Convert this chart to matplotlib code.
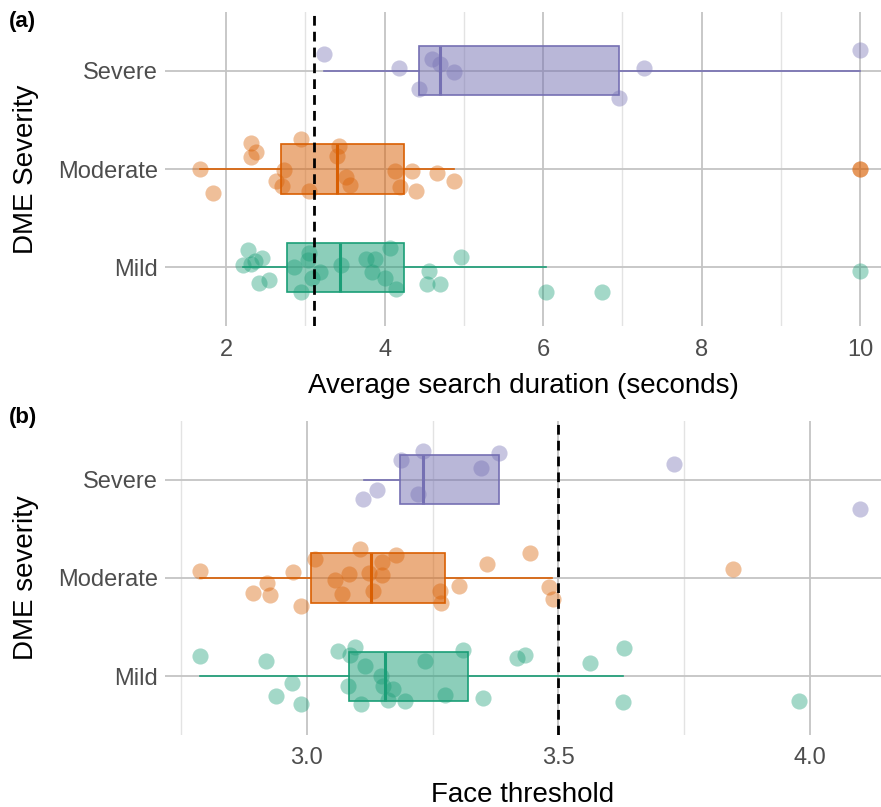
import matplotlib
matplotlib.use("Agg")
import matplotlib.pyplot as plt
from matplotlib.ticker import MultipleLocator

plt.rcParams['font.family'] = ['Liberation Sans', 'DejaVu Sans']

categories = ["Mild", "Moderate", "Severe"]
colors = {"Mild": "#1B9E77", "Moderate": "#D95F02", "Severe": "#7570B3"}

# ---- Panel (a): average search duration (seconds) ----
a_severe_x = [3.24, 4.18, 4.60, 4.70, 4.87, 4.43, 7.27, 6.96, 10.0]
a_severe_dy = [0.170, 0.028, 0.122, 0.071, -0.007, -0.187, 0.028, -0.279, 0.214]

a_moderate_x = [1.67, 1.83, 2.32, 2.38, 2.32, 2.95, 2.73, 2.63, 2.71, 3.05, 3.42,
                3.40, 3.51, 3.57, 4.13, 4.20, 4.34, 4.40, 4.66, 4.88, 10.0, 10.0]
a_moderate_dy = [0.005, -0.248, 0.265, 0.173, 0.119, 0.306, -0.007, -0.119, -0.177,
                 -0.228, 0.232, 0.129, -0.085, -0.160, -0.023, -0.187, -0.023,
                 -0.228, -0.041, -0.126, 0.0, 0.0]

a_mild_x = [2.28, 2.22, 2.31, 2.36, 2.46, 2.42, 2.54, 2.86, 2.95, 3.05, 3.03, 3.08,
            3.18, 3.45, 3.77, 3.88, 3.84, 4.07, 4.01, 4.15, 4.56, 4.53, 4.70, 4.96,
            6.04, 6.74, 10.0]
a_mild_dy = [0.173, 0.020, 0.031, 0.061, 0.089, -0.166, -0.133, 0.003, -0.258,
             0.140, 0.071, -0.115, -0.048, 0.020, 0.082, 0.082, -0.048, 0.191,
             -0.115, -0.224, -0.041, -0.177, -0.177, 0.099, -0.255, -0.255, -0.041]

# box summaries (whisker low, Q1, median, Q3, whisker high) for Mild, Moderate, Severe
a_whislo = [2.22, 1.67, 3.24]
a_q1 = [2.77, 2.69, 4.43]
a_med = [3.44, 3.40, 4.70]
a_q3 = [4.25, 4.24, 6.96]
a_whishi = [6.04, 4.88, 10.0]
a_ref = 3.11

# ---- Panel (b): face threshold ----
b_severe_x = [3.112, 3.140, 3.187, 3.232, 3.222, 3.346, 3.382, 3.730, 4.100]
b_severe_dy = [-0.194, -0.102, 0.204, 0.299, -0.143, 0.119, 0.272, 0.163, -0.299]

b_moderate_x = [2.789, 2.894, 2.921, 2.927, 2.973, 2.988, 3.017, 3.056, 3.070, 3.085,
                3.105, 3.124, 3.132, 3.149, 3.149, 3.177, 3.265, 3.266, 3.303, 3.358,
                3.444, 3.482, 3.490, 3.846]
b_moderate_dy = [0.075, -0.156, -0.054, -0.173, 0.058, -0.283, 0.194, -0.020,
                 -0.163, 0.041, 0.293, 0.054, -0.129, 0.166, 0.031, 0.235, -0.129,
                 -0.258, -0.078, 0.140, 0.258, -0.089, -0.214, 0.092]

b_mild_x = [2.788, 2.919, 2.970, 2.939, 2.989, 3.063, 3.096, 3.086, 3.116, 3.083,
            3.107, 3.147, 3.152, 3.172, 3.162, 3.195, 3.235, 3.275, 3.311, 3.351,
            3.417, 3.434, 3.562, 3.630, 3.629, 3.978]
b_mild_dy = [0.207, 0.156, -0.074, -0.204, -0.286, 0.252, 0.293, 0.211, 0.099,
             -0.105, -0.286, -0.003, -0.105, -0.130, -0.242, -0.252, 0.156,
             -0.191, 0.268, -0.218, 0.180, 0.214, 0.136, 0.283, -0.262, -0.252]

b_whislo = [2.788, 2.789, 3.114]
b_q1 = [3.084, 3.009, 3.185]
b_med = [3.156, 3.128, 3.232]
b_q3 = [3.321, 3.275, 3.382]
b_whishi = [3.629, 3.488, 3.382]
b_ref = 3.5

fig = plt.figure(figsize=(8.81, 8.07), dpi=100)
ax_a = fig.add_axes([165 / 881, 1 - 326 / 807, 716 / 881, 314 / 807])
ax_b = fig.add_axes([165 / 881, 1 - 735 / 807, 716 / 881, 314 / 807])


def draw_panel(ax, groups, whislo, q1, med, q3, whishi, ref, xlim, major, minor,
               xlabel, ylabel, tag, tag_y, fmt):
    stats = []
    for i, cat in enumerate(categories):
        stats.append(dict(whislo=whislo[i], q1=q1[i], med=med[i], q3=q3[i],
                          whishi=whishi[i], fliers=[], label=cat))
    ax.set_axisbelow(True)
    bp = ax.bxp(stats, positions=[1, 2, 3], widths=0.5, vert=False,
                patch_artist=True, showfliers=False, showcaps=False)
    for i, cat in enumerate(categories):
        c = colors[cat]
        bp['boxes'][i].set_facecolor(matplotlib.colors.to_rgba(c, 0.5))
        bp['boxes'][i].set_edgecolor(c)
        bp['boxes'][i].set_linewidth(1.2)
        bp['medians'][i].set_color(c)
        bp['medians'][i].set_linewidth(2.2)
        for w in bp['whiskers'][2 * i:2 * i + 2]:
            w.set_color(c)
            w.set_linewidth(1.2)
    for i, cat in enumerate(categories):
        xs, dys = groups[cat]
        ys = [i + 1 + d for d in dys]
        ax.scatter(xs, ys, s=135, color=colors[cat], alpha=0.4, linewidths=0,
                   zorder=3)
    ax.axvline(ref, color="black", lw=2.0, linestyle=(0, (3.5, 2.2)), zorder=4)

    ax.set_xlim(*xlim)
    ax.set_ylim(0.4, 3.6)
    ax.xaxis.set_major_locator(MultipleLocator(major))
    ax.xaxis.set_minor_locator(MultipleLocator(minor))
    ax.xaxis.set_major_formatter(matplotlib.ticker.FormatStrFormatter(fmt))
    ax.set_yticks([1, 2, 3])
    ax.set_yticklabels(categories)
    ax.grid(which="major", color="#C4C4C4", lw=1.3)
    ax.grid(which="minor", axis="x", color="#E3E3E3", lw=1.0)
    for s in ax.spines.values():
        s.set_visible(False)
    ax.tick_params(which="both", length=0)
    ax.tick_params(axis="x", labelsize=17, labelcolor="#4D4D4D", pad=9)
    ax.tick_params(axis="y", labelsize=17, labelcolor="#4D4D4D", pad=5)
    ax.set_xlabel(xlabel, fontsize=20, labelpad=9)
    ax.set_ylabel(ylabel, fontsize=20, labelpad=14)
    ax.text(-0.218, tag_y, tag, transform=ax.transAxes, fontsize=16,
            fontweight="bold", ha="left", va="center")


draw_panel(ax_a,
           {"Mild": (a_mild_x, a_mild_dy), "Moderate": (a_moderate_x, a_moderate_dy),
            "Severe": (a_severe_x, a_severe_dy)},
           a_whislo, a_q1, a_med, a_q3, a_whishi, a_ref,
           (1.231, 10.26), 2, 1,
           "Average search duration (seconds)", "DME Severity", "(a)", 0.97, "%d")

draw_panel(ax_b,
           {"Mild": (b_mild_x, b_mild_dy), "Moderate": (b_moderate_x, b_moderate_dy),
            "Severe": (b_severe_x, b_severe_dy)},
           b_whislo, b_q1, b_med, b_q3, b_whishi, b_ref,
           (2.7185, 4.141), 0.5, 0.25,
           "Face threshold", "DME severity", "(b)", 1.01, "%.1f")

fig.savefig("out.png", dpi=100)
